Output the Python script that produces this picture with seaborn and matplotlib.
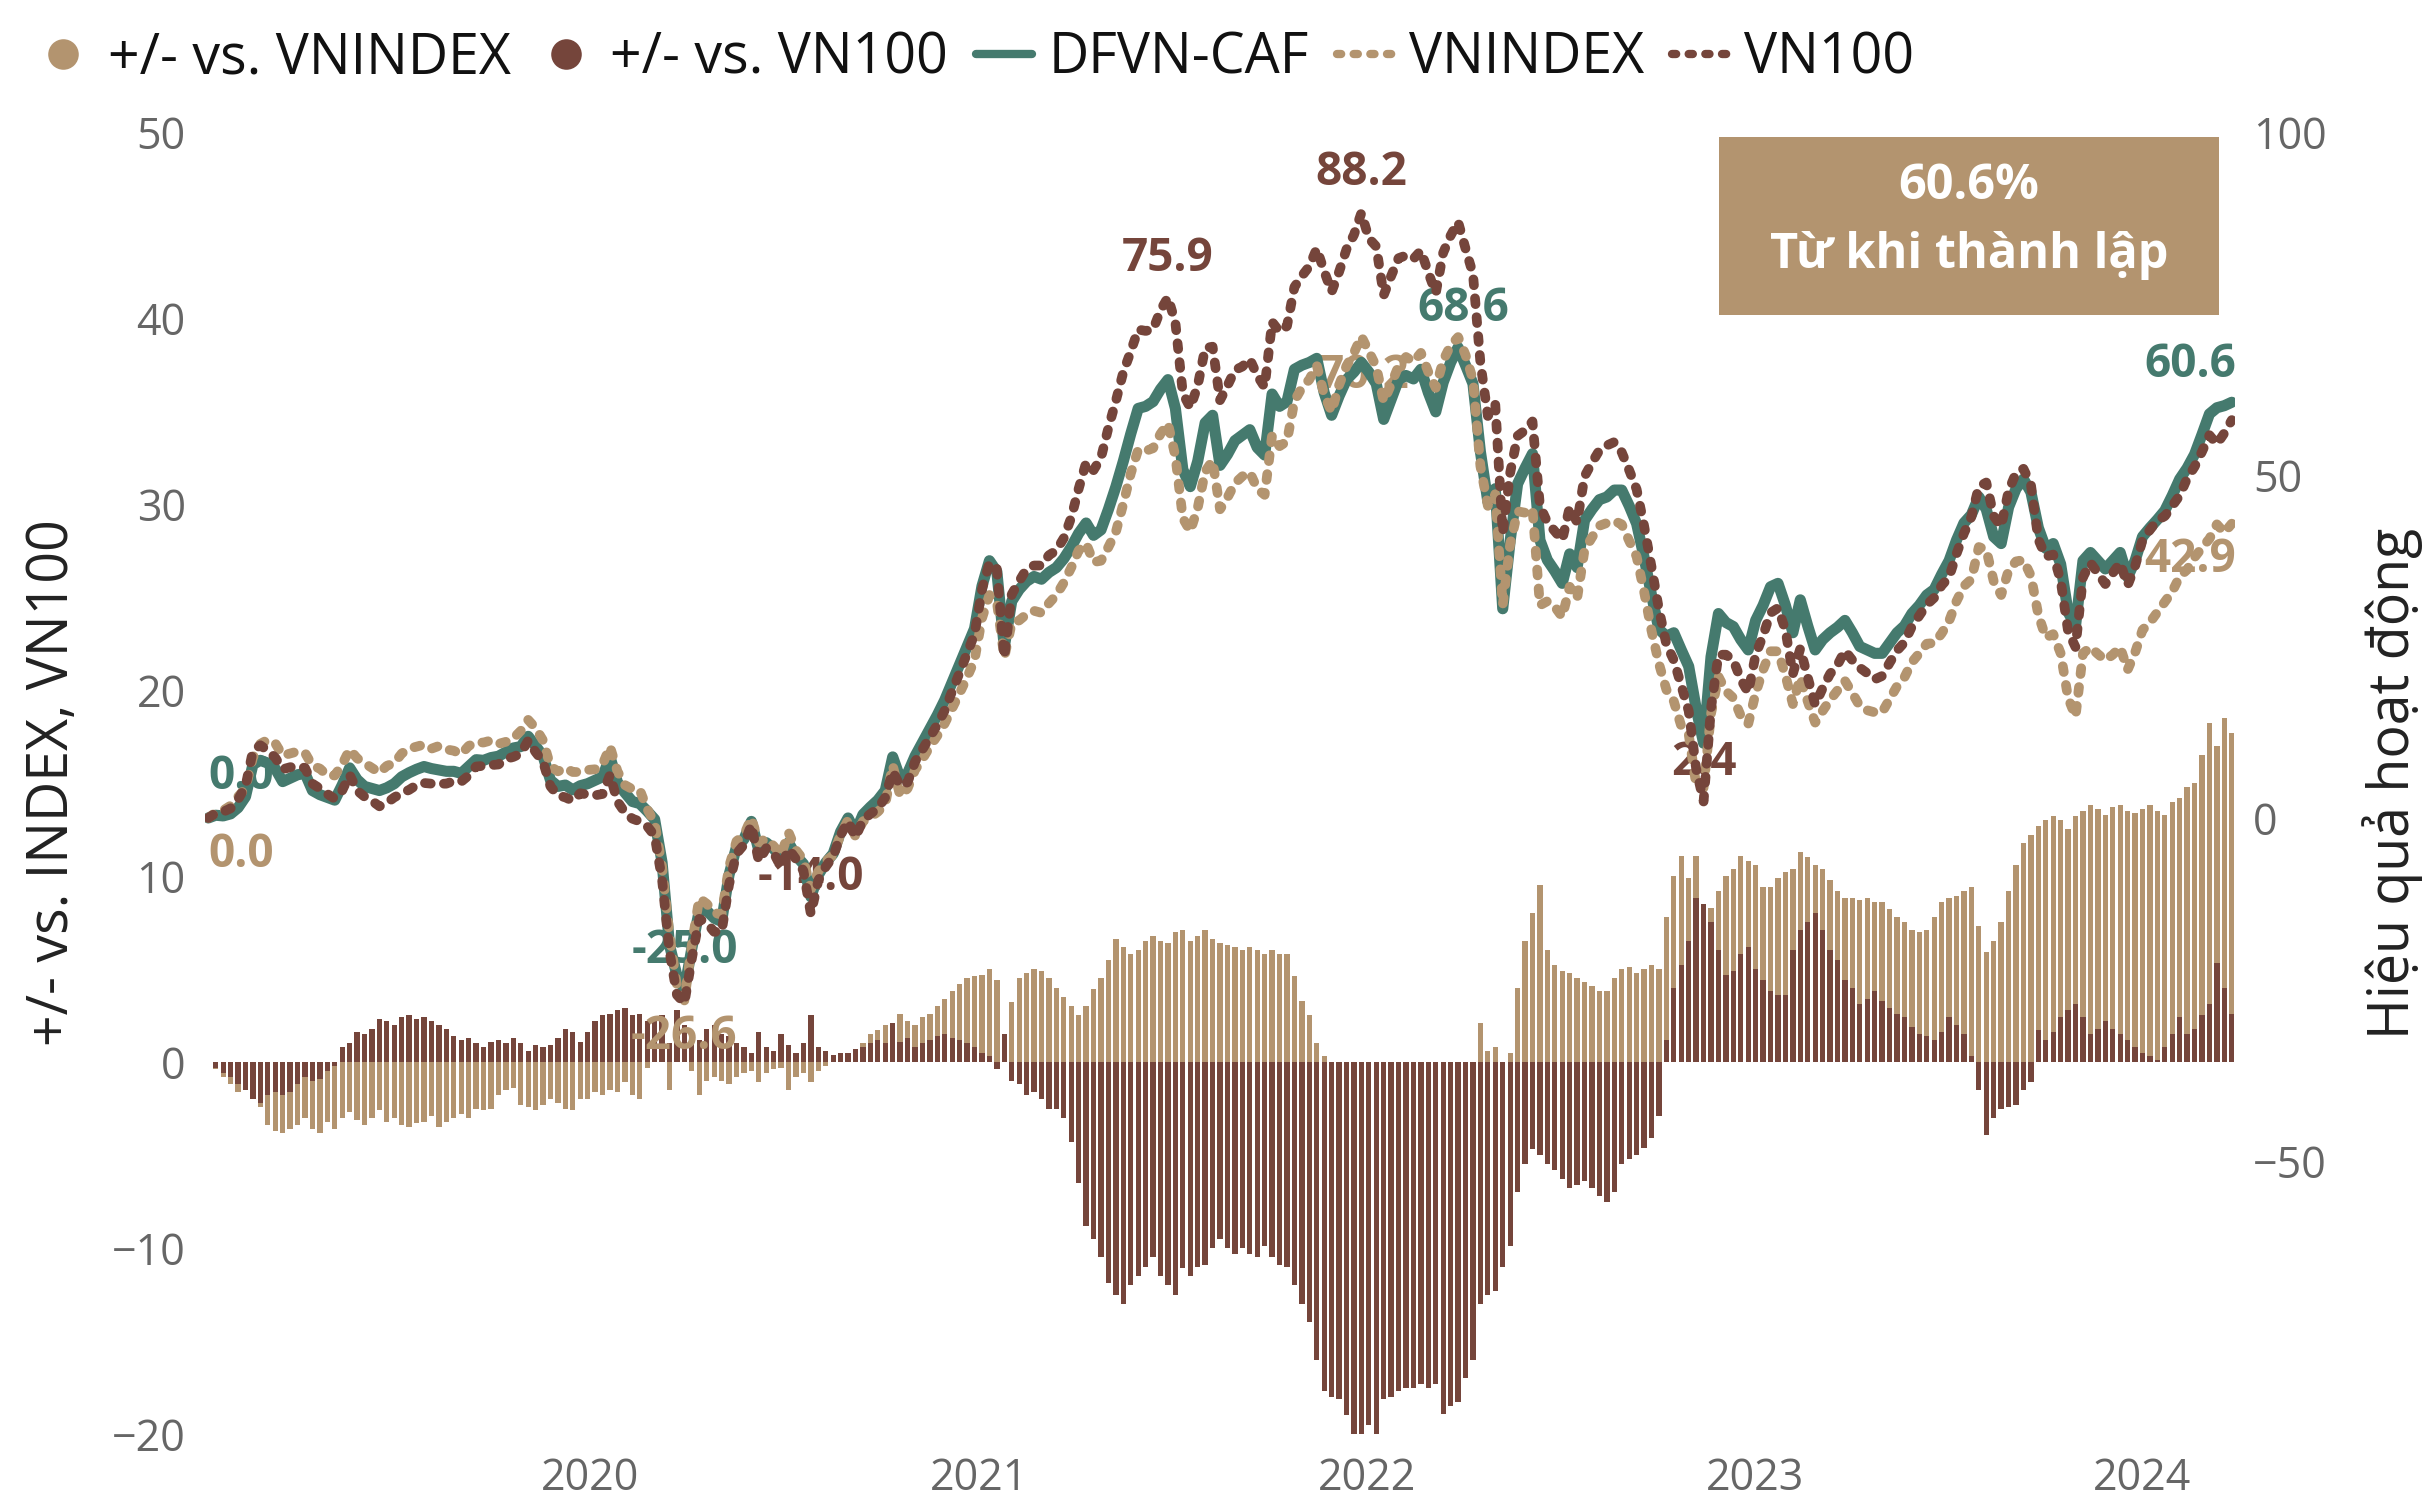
import pandas as pd
import seaborn as sns
import matplotlib
from matplotlib import pyplot as plt
from matplotlib.lines import Line2D
from matplotlib.patches import Rectangle
import matplotlib.dates as mdates
matplotlib.use("Agg")

# Weekly performance since inception (%), one value per week from start_date
start_date = "2019-01-07"

dfvn_caf = [
    0.0, 0.4, 0.3, 0.6, 1.5, 3.1, 7.8, 8.4, 8.0, 7.2,
    5.3, 5.8, 6.3, 6.5, 4.0, 3.4, 3.0, 2.6, 4.8, 7.3,
    5.6, 4.6, 4.3, 4.0, 4.4, 5.0, 6.0, 6.6, 7.1, 7.5,
    7.2, 7.0, 6.8, 6.8, 6.5, 7.5, 8.5, 8.4, 8.8, 9.0,
    9.6, 10.2, 10.4, 11.9, 10.5, 9.0, 5.5, 4.6, 4.8, 4.1,
    4.7, 5.0, 5.5, 6.0, 8.9, 5.2, 3.7, 2.4, 2.1, 1.0,
    -0.2, -6.5, -18.5, -23.0, -25.0, -19.0, -13.5, -13.5, -14.6, -15.1,
    -8.3, -4.2, -3.1, -0.5, -4.7, -3.6, -4.5, -5.7, -3.6, -5.5,
    -6.7, -11.5, -8.3, -6.5, -5.2, -2.0, 0.0, -2.1, 0.5, 1.6,
    2.6, 4.0, 8.9, 5.8, 6.5, 9.0, 11.0, 13.0, 15.0, 17.2,
    19.8, 22.4, 25.0, 27.6, 33.8, 37.5, 35.9, 24.9, 31.6, 33.3,
    34.5, 35.2, 34.8, 35.8, 36.5, 37.8, 39.5, 41.5, 43.0, 41.2,
    42.0, 45.0, 48.3, 52.0, 56.0, 59.7, 60.0, 60.7, 62.5, 63.9,
    59.7, 50.8, 48.3, 52.0, 57.6, 58.7, 51.4, 53.0, 55.0, 55.8,
    56.6, 54.0, 52.9, 61.8, 60.0, 60.7, 65.4, 66.0, 66.4, 67.0,
    62.0, 58.7, 61.5, 63.9, 65.0, 66.4, 65.0, 63.3, 58.1, 61.0,
    63.9, 64.5, 64.0, 65.4, 62.0, 59.2, 63.5, 66.4, 68.6, 66.0,
    63.3, 53.4, 46.1, 48.0, 30.5, 40.4, 48.7, 51.0, 53.1, 40.5,
    37.6, 36.0, 34.2, 38.5, 36.5, 43.4, 45.0, 46.4, 46.8, 47.8,
    47.8, 45.5, 42.9, 38.0, 32.5, 27.5, 26.5, 27.0, 24.5, 22.1,
    16.0, 10.9, 23.5, 29.8, 28.5, 27.9, 26.0, 24.5, 28.8, 31.0,
    33.7, 34.2, 31.0, 27.0, 31.8, 28.0, 24.5, 26.0, 27.0, 27.8,
    28.8, 27.0, 25.0, 24.5, 24.0, 24.0, 25.5, 27.0, 28.0, 29.8,
    31.0, 32.5, 33.3, 35.5, 37.5, 40.5, 43.0, 44.2, 46.8, 45.0,
    41.0, 40.0, 45.3, 48.0, 49.4, 47.5, 42.3, 39.3, 40.0, 37.0,
    30.0, 28.0, 37.5, 38.7, 37.5, 36.3, 37.5, 38.7, 35.1, 37.5,
    41.0, 42.3, 43.5, 44.8, 47.0, 49.4, 51.0, 53.0, 55.9, 58.9,
    59.8, 60.1, 60.6,
]

# DFVN-CAF minus VNINDEX (percentage points)
diff_vnindex = [
    0.0, -0.4, -0.8, -1.2, -1.6, -1.2, -1.0, -2.4, -3.4, -3.7,
    -3.8, -3.6, -3.4, -3.0, -3.6, -3.8, -3.2, -3.6, -3.0, -2.7,
    -3.1, -3.4, -3.0, -2.6, -3.2, -3.0, -3.4, -3.5, -3.3, -3.2,
    -2.9, -3.5, -3.2, -3.0, -2.8, -3.0, -2.5, -2.6, -2.5, -1.8,
    -1.5, -1.4, -2.3, -2.4, -2.6, -2.3, -2.0, -2.2, -2.5, -2.6,
    -2.0, -2.0, -1.6, -1.8, -1.5, -1.6, -1.1, -1.8, -2.0, -0.3,
    0.5, 0.6, -1.5, 1.5, 1.6, -0.5, -1.8, -1.0, -0.8, -1.0,
    -1.2, -0.8, -0.6, -0.5, -1.1, -0.6, -0.4, -0.3, -1.5, -0.8,
    -0.6, -1.1, -0.5, -0.2, 0.2, 0.4, 0.3, 0.6, 1.0, 1.5,
    1.7, 2.0, 1.2, 2.6, 2.2, 2.0, 2.4, 2.6, 3.0, 3.4,
    3.8, 4.2, 4.5, 4.6, 4.7, 5.0, 4.4, 1.5, 3.2, 4.5,
    4.8, 5.0, 4.9, 4.5, 4.0, 3.5, 3.0, 2.5, 3.0, 3.9,
    4.5, 5.5, 6.6, 6.2, 5.8, 6.0, 6.5, 6.8, 6.5, 6.4,
    7.0, 7.1, 6.5, 6.8, 7.1, 6.6, 6.4, 6.3, 6.2, 6.0,
    6.2, 6.0, 5.8, 6.0, 5.8, 5.8, 4.6, 3.3, 2.5, 1.0,
    0.3, -0.5, -1.6, -2.0, -2.8, -3.8, -3.0, -2.5, -2.6, -2.2,
    -2.0, -2.7, -2.5, -2.4, -3.0, -3.5, -3.2, -2.5, -1.5, -1.5,
    -0.6, 2.1, 0.6, 0.8, -0.5, 0.5, 4.0, 6.5, 8.0, 9.5,
    6.0, 5.2, 4.9, 4.8, 4.5, 4.3, 4.1, 3.8, 3.8, 4.5,
    5.0, 5.1, 4.8, 5.0, 5.2, 5.0, 7.8, 10.0, 11.1, 9.9,
    11.1, 6.5, 8.3, 9.2, 10.0, 10.4, 11.1, 10.8, 10.6, 9.4,
    9.4, 9.9, 10.2, 10.4, 11.3, 11.0, 10.6, 10.4, 9.8, 9.2,
    8.8, 8.8, 8.7, 8.8, 8.6, 8.6, 8.2, 7.8, 7.5, 7.1,
    7.0, 7.1, 7.8, 8.6, 8.8, 8.9, 9.2, 9.4, 7.3, 5.9,
    6.5, 7.5, 9.2, 10.6, 11.8, 12.2, 12.7, 13.0, 13.2, 13.0,
    12.5, 13.2, 13.5, 13.8, 13.6, 13.3, 13.7, 13.8, 13.5, 13.4,
    13.6, 13.8, 13.5, 13.3, 14.0, 14.2, 14.8, 15.0, 16.5, 18.2,
    17.0, 18.5, 17.7,
]

# DFVN-CAF minus VN100 (percentage points)
diff_vn100 = [
    0.0, -0.3, -0.6, -0.8, -1.2, -1.5, -2.0, -2.2, -1.8, -1.6,
    -1.8, -1.6, -1.2, -0.8, -1.0, -0.9, -0.5, -0.2, 0.8, 1.0,
    1.6, 1.5, 1.8, 2.3, 2.2, 2.0, 2.4, 2.5, 2.3, 2.4,
    2.2, 2.0, 1.8, 1.4, 1.2, 1.3, 1.0, 0.8, 1.1, 1.2,
    1.0, 1.3, 1.0, 0.6, 0.9, 0.8, 0.9, 1.3, 1.8, 1.6,
    1.1, 1.6, 2.2, 2.5, 2.6, 2.8, 2.9, 2.5, 2.6, 2.2,
    2.4, 2.5, 1.0, 2.8, 2.0, 1.5, 1.2, 1.8, 2.0, 1.5,
    1.4, 1.0, 0.8, 0.5, 1.6, 0.8, 0.6, 1.5, 0.9, 0.5,
    1.0, 2.5, 0.8, 0.6, 0.4, 0.5, 0.5, 0.7, 0.8, 1.0,
    1.2, 1.0, 2.1, 1.1, 1.3, 0.8, 1.0, 1.2, 1.4, 1.5,
    1.3, 1.2, 1.0, 0.8, 0.5, 0.3, -0.4, 1.5, -1.0, -1.2,
    -1.8, -1.6, -2.0, -2.5, -2.5, -3.0, -4.3, -6.5, -8.8, -9.5,
    -10.5, -11.9, -12.5, -13.0, -12.0, -11.5, -11.0, -10.5, -11.5, -12.0,
    -12.5, -11.1, -11.5, -11.0, -10.9, -10.0, -9.5, -10.0, -10.3, -10.0,
    -10.3, -10.5, -9.9, -10.5, -10.9, -11.0, -12.0, -13.0, -14.0, -16.0,
    -17.7, -18.0, -18.1, -19.0, -20.0, -21.8, -19.5, -20.0, -18.1, -18.0,
    -17.7, -17.5, -17.5, -17.3, -17.5, -17.3, -18.9, -18.5, -18.3, -17.0,
    -16.0, -13.0, -12.5, -12.3, -11.0, -9.9, -7.0, -5.5, -4.7, -5.0,
    -5.5, -5.8, -6.3, -6.8, -6.6, -6.4, -6.8, -7.2, -7.5, -7.0,
    -5.5, -5.2, -5.0, -4.6, -4.1, -2.9, 1.2, 4.0, 5.2, 6.5,
    8.8, 8.5, 7.5, 6.0, 4.7, 4.9, 5.8, 6.2, 5.0, 4.4,
    3.8, 3.6, 3.6, 6.0, 7.1, 7.5, 8.0, 7.1, 6.0, 5.5,
    4.4, 4.0, 3.1, 3.4, 3.8, 3.3, 2.9, 2.6, 2.4, 1.9,
    1.5, 1.4, 1.2, 1.6, 2.4, 2.0, 1.5, 0.3, -1.5, -3.9,
    -3.0, -2.5, -2.4, -2.3, -1.5, -1.1, 1.7, 1.2, 1.6, 2.4,
    2.8, 3.1, 2.4, 1.5, 1.8, 2.2, 1.8, 1.5, 1.2, 0.8,
    0.5, 0.3, 0.1, 0.8, 1.5, 2.4, 1.5, 1.8, 2.5, 3.1,
    5.3, 4.0, 2.6,
]

legend_labels = ["+/- vs. VNINDEX", "+/- vs. VN100", "DFVN-CAF", "VNINDEX", "VN100"]
left_ticks = [-20, -10, 0, 10, 20, 30, 40, 50]
right_ticks = [-50, 0, 50, 100]

TEAL = "#457A6E"
TAN = "#B3946F"
BROWN = "#75453B"
GREY = "#666666"

df = pd.DataFrame({
    "date": pd.date_range(start_date, periods=len(dfvn_caf), freq="7D"),
    "DFVN-CAF": dfvn_caf,
    "vs_vni": diff_vnindex,
    "vs_vn100": diff_vn100,
})
df["VNINDEX"] = df["DFVN-CAF"] - df["vs_vni"]
df["VN100"] = df["DFVN-CAF"] - df["vs_vn100"]

sns.set_theme(style="white")
plt.rcParams["font.family"] = ["Open Sans", "DejaVu Sans"]

fig = plt.figure(figsize=(24.33, 15.03), dpi=100)
ax = fig.add_axes([0.0843, 0.0459, 0.8343, 0.8663])
ax2 = ax.twinx()

# bars: relative performance
ax.bar(df["date"], df["vs_vni"], width=5, color=TAN, linewidth=0)
ax.bar(df["date"], df["vs_vn100"], width=5, color=BROWN, linewidth=0)

# lines: cumulative performance
dash = (0, (0.6, 1.35))
sns.lineplot(data=df, x="date", y="DFVN-CAF", ax=ax2, color=TEAL, linewidth=8,
             solid_capstyle="round", solid_joinstyle="round")
sns.lineplot(data=df, x="date", y="VNINDEX", ax=ax2, color=TAN, linewidth=7,
             linestyle=dash, dash_capstyle="round")
sns.lineplot(data=df, x="date", y="VN100", ax=ax2, color=BROWN, linewidth=7,
             linestyle=dash, dash_capstyle="round")


def tag(col, idx, color, dx, dy, ha="center"):
    val = df[col].iloc[idx]
    ax2.annotate(f"{val:.1f}", (df["date"].iloc[idx], val), xytext=(dx, dy),
                 textcoords="offset points", ha=ha, va="center", color=color,
                 fontsize=33, fontweight="bold", zorder=1.5)


last = len(df) - 1
tag("DFVN-CAF", 0, TEAL, 24, 30)
tag("VNINDEX", 0, TAN, 24, -26)
tag("DFVN-CAF", int(df["DFVN-CAF"].idxmin()), TEAL, 0, 28)
tag("VNINDEX", int(df["VNINDEX"].idxmin()), TAN, 0, -26)
tag("DFVN-CAF", int(df["DFVN-CAF"].idxmax()), TEAL, 4, 28)
tag("VNINDEX", int(df["VNINDEX"].idxmax()), TAN, 2, -28)
tag("VN100", int(df["VN100"].idxmax()), BROWN, 0, 29)
tag("VN100", 129, BROWN, 0, 28)
tag("VN100", 81, BROWN, 0, 26)
tag("VN100", 201, BROWN, 0, 28)
tag("DFVN-CAF", last, TEAL, 3, 27, ha="right")
tag("VNINDEX", last, TAN, 3, -26, ha="right")

# axes styling
ax.set_xlim(df["date"].iloc[0] - pd.Timedelta(days=3), df["date"].iloc[-1] + pd.Timedelta(days=3))
ax.set_ylim(-20, 50)
ax.set_yticks(left_ticks)
ax2.set_ylim(-89.8, 100)
ax2.set_yticks(right_ticks)
ax.xaxis.set_major_locator(mdates.YearLocator())
ax.xaxis.set_major_formatter(mdates.DateFormatter("%Y"))
ax.tick_params(axis="y", length=0, labelsize=31, labelcolor=GREY, pad=14)
ax.tick_params(axis="x", length=0, labelsize=31, labelcolor=GREY, pad=16)
ax2.tick_params(axis="y", length=0, labelsize=31, labelcolor=GREY, pad=13)
ax.set_xlabel("")
ax2.set_xlabel("")
ax.set_ylabel("+/- vs. INDEX, VN100", fontsize=40, color="#222222")
ax2.set_ylabel("Hiệu quả hoạt động", fontsize=40, color="#222222")
ax.yaxis.set_label_coords(-0.0606, 0.5)
ax2.yaxis.set_label_coords(1.0626, 0.5)
for a in (ax, ax2):
    for s in a.spines.values():
        s.set_visible(False)
    a.grid(False)

# legend
handles = [
    Line2D([], [], marker="o", linestyle="none", markersize=22, markerfacecolor=TAN, markeredgewidth=0),
    Line2D([], [], marker="o", linestyle="none", markersize=22, markerfacecolor=BROWN, markeredgewidth=0),
    Line2D([], [], color=TEAL, linewidth=6),
    Line2D([], [], color=TAN, linewidth=6, linestyle=(0, (0.5, 1.5)), dash_capstyle="round"),
    Line2D([], [], color=BROWN, linewidth=6, linestyle=(0, (0.5, 1.5)), dash_capstyle="round"),
]
fig.legend(handles, legend_labels, loc="upper left", bbox_to_anchor=(-0.006, 1.013), ncol=5,
           frameon=False, fontsize=40, handlelength=1.0, handletextpad=0.3, columnspacing=0.5,
           labelcolor="#111111")

# inception box
fig.add_artist(Rectangle((0.7065, 0.7904), 0.2055, 0.1184, transform=fig.transFigure,
                         facecolor=TAN, edgecolor="none"))
fig.text(0.8093, 0.876, f"{dfvn_caf[-1]:.1f}%", ha="center", va="center", color="white",
         fontsize=35, fontweight="bold")
fig.text(0.8093, 0.8297, "Từ khi thành lập", ha="center", va="center", color="white",
         fontsize=35, fontweight="bold")

fig.savefig("out.png", dpi=100)
plt.close()
